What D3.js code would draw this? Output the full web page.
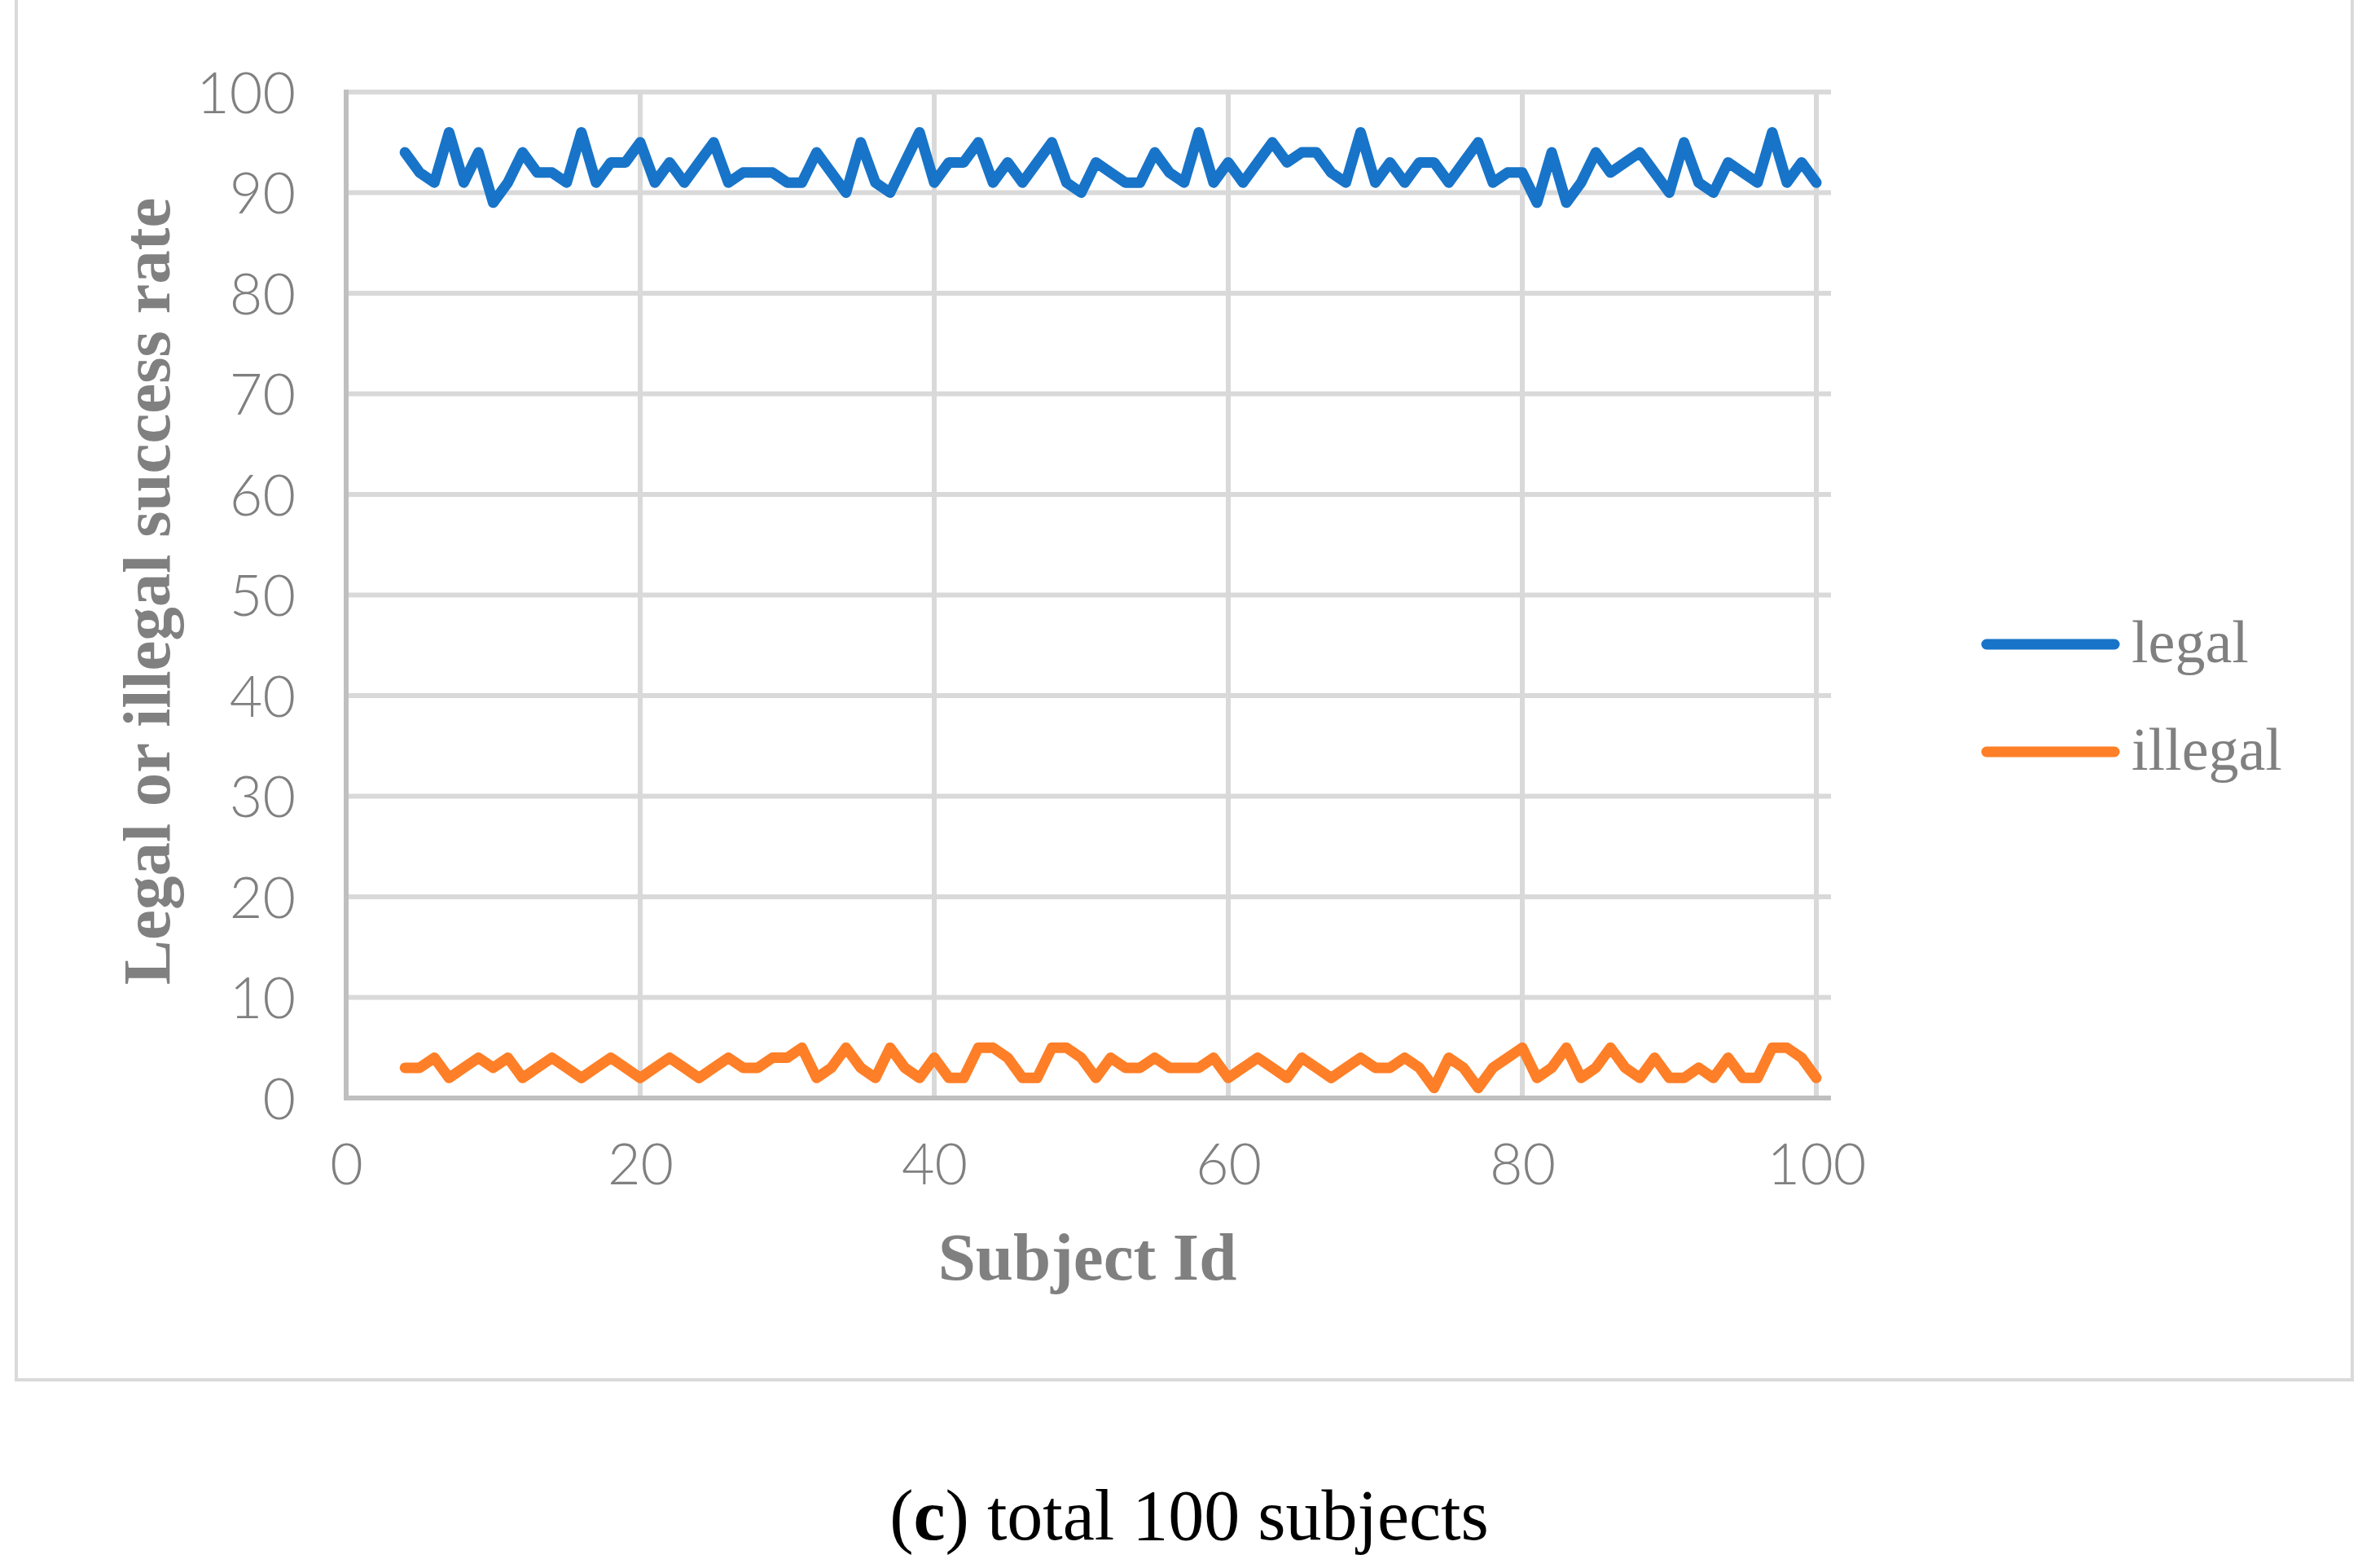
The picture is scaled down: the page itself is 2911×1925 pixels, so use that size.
<!DOCTYPE html>
<html>
<head>
<meta charset="utf-8">
<script src="https://cdn.jsdelivr.net/npm/d3@7"></script>
<style>
  body { margin: 0; background: #fff; }
  svg { display: block; }
  .tick text { font-family: Lato, "Open Sans", sans-serif; font-weight: 300; fill: #808080; }
</style>
</head>
<body>
<div id="chart"></div>
<script>
// subject ids 4..100
const subjectIds = d3.range(4, 101);

const legalRate = [
  94, 92, 91, 96, 91, 94, 89, 91, 94, 92, 92, 91, 96, 91, 93, 93, 95, 91, 93, 91,
  93, 95, 91, 92, 92, 92, 91, 91, 94, 92, 90, 95, 91, 90, 93, 96, 91, 93, 93, 95,
  91, 93, 91, 93, 95, 91, 90, 93, 92, 91, 91, 94, 92, 91, 96, 91, 93, 91, 93, 95,
  93, 94, 94, 92, 91, 96, 91, 93, 91, 93, 93, 91, 93, 95, 91, 92, 92, 89, 94, 89,
  91, 94, 92, 93, 94, 92, 90, 95, 91, 90, 93, 92, 91, 96, 91, 93, 91
];

const illegalRate = [
  3, 3, 4, 2, 3, 4, 3, 4, 2, 3, 4, 3, 2, 3, 4, 3, 2, 3, 4, 3,
  2, 3, 4, 3, 3, 4, 4, 5, 2, 3, 5, 3, 2, 5, 3, 2, 4, 2, 2, 5,
  5, 4, 2, 2, 5, 5, 4, 2, 4, 3, 3, 4, 3, 3, 3, 4, 2, 3, 4, 3,
  2, 4, 3, 2, 3, 4, 3, 3, 4, 3, 1, 4, 3, 1, 3, 4, 5, 2, 3, 5,
  2, 3, 5, 3, 2, 4, 2, 2, 3, 2, 4, 2, 2, 5, 5, 4, 2
];

const xTicks = [0, 20, 40, 60, 80, 100];
const yTicks = [0, 10, 20, 30, 40, 50, 60, 70, 80, 90, 100];

const seriesNames = ['legal', 'illegal'];
const seriesColors = ['#1874c8', '#fe7f27'];

const W = 2911, H = 1925;
const gray = '#808080';

const svg = d3.select('#chart')
  .append('svg')
  .attr('width', W)
  .attr('height', H);

svg.append('rect')
  .attr('width', W).attr('height', H)
  .attr('fill', '#fff');

// outer chart frame (top edge sits above the picture)
svg.append('rect')
  .attr('x', 20).attr('y', -20)
  .attr('width', 2868).attr('height', 1714)
  .attr('fill', 'none')
  .attr('stroke', '#d9d9d9')
  .attr('stroke-width', 4);

const x = d3.scaleLinear().domain([0, 100]).range([425, 2230]);
const y = d3.scaleLinear().domain([0, 100]).range([1348, 113]);
const plotRight = x(100) + 18;

// gridlines
svg.append('g')
  .selectAll('line')
  .data(yTicks.filter(d => d > 0))
  .join('line')
  .attr('x1', x(0)).attr('x2', plotRight)
  .attr('y1', d => y(d)).attr('y2', d => y(d))
  .attr('stroke', '#d9d9d9')
  .attr('stroke-width', 6);

svg.append('g')
  .selectAll('line')
  .data(xTicks.filter(d => d > 0))
  .join('line')
  .attr('x1', d => x(d)).attr('x2', d => x(d))
  .attr('y1', y(0)).attr('y2', y(100) - 3)
  .attr('stroke', '#d9d9d9')
  .attr('stroke-width', 6);

// axis lines
svg.append('line')
  .attr('x1', x(0)).attr('x2', x(0))
  .attr('y1', y(100) - 3).attr('y2', y(0) + 3)
  .attr('stroke', '#bfbfbf').attr('stroke-width', 6);

svg.append('line')
  .attr('x1', x(0) - 3).attr('x2', plotRight)
  .attr('y1', y(0)).attr('y2', y(0))
  .attr('stroke', '#bfbfbf').attr('stroke-width', 6);

// tick labels
svg.append('g')
  .attr('transform', `translate(${x(0) - 62},0)`)
  .call(d3.axisLeft(y).tickValues(yTicks).tickSize(0).tickPadding(0))
  .call(g => g.select('.domain').remove())
  .call(g => g.selectAll('.tick text')
    .attr('font-size', 70)
    .attr('dy', '0.36em'));

svg.append('g')
  .attr('transform', `translate(0,${y(0) + 56})`)
  .call(d3.axisBottom(x).tickValues(xTicks).tickSize(0).tickPadding(0))
  .call(g => g.select('.domain').remove())
  .call(g => g.selectAll('.tick text')
    .attr('font-size', 70)
    .attr('dy', '0.72em'));

// series lines
const line = d3.line()
  .x((d, i) => x(subjectIds[i]))
  .y(d => y(d));

[legalRate, illegalRate].forEach((vals, k) => {
  svg.append('path')
    .datum(vals)
    .attr('fill', 'none')
    .attr('stroke', seriesColors[k])
    .attr('stroke-width', 13)
    .attr('stroke-linejoin', 'round')
    .attr('stroke-linecap', 'round')
    .attr('d', line);
});

// axis titles
svg.append('text')
  .attr('transform', 'translate(208,726) rotate(-90)')
  .attr('text-anchor', 'middle')
  .attr('font-family', '"Liberation Serif", "Times New Roman", serif')
  .attr('font-weight', 'bold')
  .attr('font-size', 83)
  .attr('fill', gray)
  .text('Legal or illegal success rate');

svg.append('text')
  .attr('x', 1335).attr('y', 1571)
  .attr('text-anchor', 'middle')
  .attr('font-family', '"Liberation Serif", "Times New Roman", serif')
  .attr('font-weight', 'bold')
  .attr('font-size', 83)
  .attr('fill', gray)
  .text('Subject Id');

// legend
const legend = svg.append('g');
seriesNames.forEach((name, k) => {
  const ly = [791, 923][k];
  legend.append('line')
    .attr('x1', 2439).attr('x2', 2596)
    .attr('y1', ly).attr('y2', ly)
    .attr('stroke', seriesColors[k])
    .attr('stroke-width', 13)
    .attr('stroke-linecap', 'round');
  legend.append('text')
    .attr('x', 2617).attr('y', ly + 22)
    .attr('font-family', '"Liberation Serif", "Times New Roman", serif')
    .attr('font-size', 74)
    .attr('fill', gray)
    .text(name);
});

// caption
const cap = svg.append('text')
  .attr('x', 1460).attr('y', 1890)
  .attr('text-anchor', 'middle')
  .attr('font-family', '"Liberation Serif", "Times New Roman", serif')
  .attr('font-size', 88)
  .attr('fill', '#000');
cap.append('tspan').text('(');
cap.append('tspan').attr('font-weight', 'bold').text('c');
cap.append('tspan').text(') total 100 subjects');
</script>
</body>
</html>
